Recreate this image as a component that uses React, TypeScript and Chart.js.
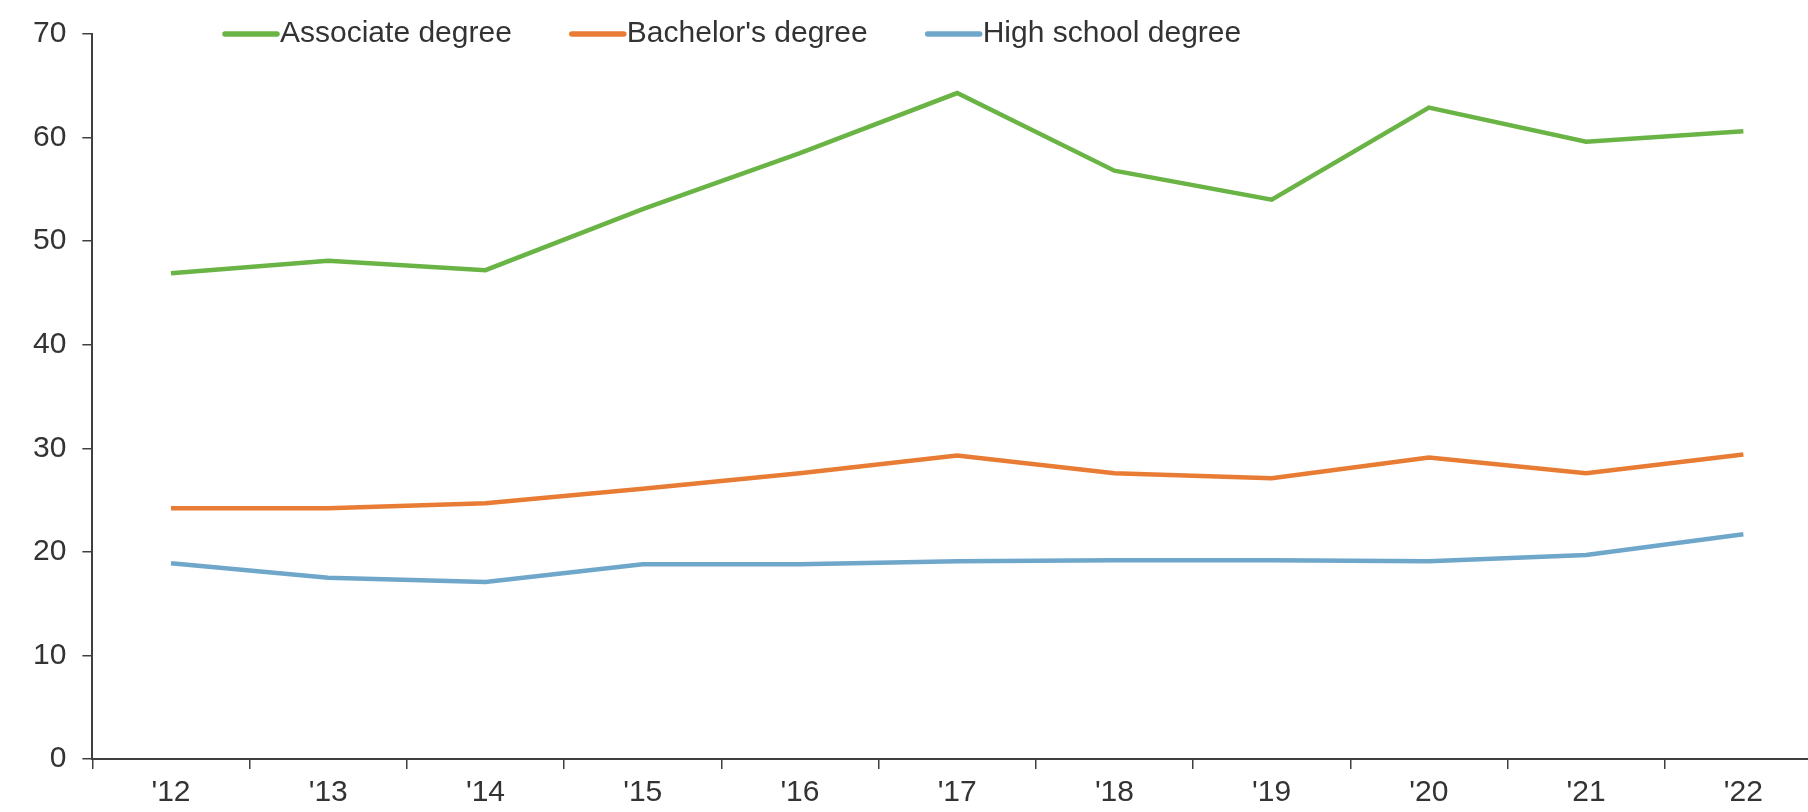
import React, { useEffect, useRef } from "react";
import { Chart, registerables } from "chart.js";

Chart.register(...registerables);

const categories = ["'12", "'13", "'14", "'15", "'16", "'17", "'18", "'19", "'20", "'21", "'22"];
const associate = [46.9, 48.1, 47.2, 53.1, 58.5, 64.3, 56.8, 54.0, 62.9, 59.6, 60.6];
const bachelors = [24.2, 24.2, 24.7, 26.1, 27.6, 29.3, 27.6, 27.1, 29.1, 27.6, 29.4];
const highSchool = [18.9, 17.5, 17.1, 18.8, 18.8, 19.1, 19.2, 19.2, 19.1, 19.7, 21.7];
const seriesNames = ["Associate degree", "Bachelor's degree", "High school degree"];
const seriesColors = ["#6ab446", "#e87c34", "#6fa7cb"];

const FONT = "'Liberation Sans', Arial, sans-serif";
const TEXT_COLOR = "#333333";
const AXIS_COLOR = "#404040";

const legendPlugin = {
  id: "topLegend",
  afterDraw(chart: any) {
    const ctx = chart.ctx;
    ctx.save();
    ctx.font = `30px ${FONT}`;
    ctx.textBaseline = "middle";
    ctx.textAlign = "left";
    let x = 225;
    const y = 34;
    chart.data.datasets.forEach((ds: any) => {
      ctx.strokeStyle = ds.borderColor;
      ctx.lineWidth = 5.5;
      ctx.lineCap = "round";
      ctx.beginPath();
      ctx.moveTo(x, y);
      ctx.lineTo(x + 52, y);
      ctx.stroke();
      ctx.fillStyle = TEXT_COLOR;
      ctx.fillText(ds.label, x + 55, y);
      const w = ctx.measureText(ds.label).width;
      x += 55 + w + 60;
    });
    ctx.restore();
  },
};

export default function App() {
  const ref = useRef<HTMLCanvasElement | null>(null);

  useEffect(() => {
    if (!ref.current) return;
    const values = [associate, bachelors, highSchool];
    const chart = new Chart(ref.current, {
      type: "line",
      data: {
        labels: categories,
        datasets: values.map((v, i) => ({
          label: seriesNames[i],
          data: v,
          borderColor: seriesColors[i],
          backgroundColor: seriesColors[i],
          borderWidth: 4.5,
          pointRadius: 0,
          tension: 0,
          fill: false,
        })),
      },
      options: {
        responsive: false,
        animation: false,
        layout: { padding: { left: 17, top: 23, right: 8, bottom: 0 } },
        plugins: {
          legend: { display: false },
          tooltip: { enabled: false },
        },
        scales: {
          x: {
            type: "category",
            offset: true,
            grid: {
              offset: true,
              drawOnChartArea: false,
              drawTicks: true,
              tickLength: 10,
              color: AXIS_COLOR,
              lineWidth: 1.5,
            },
            border: { display: true, color: AXIS_COLOR, width: 2 },
            ticks: {
              color: TEXT_COLOR,
              font: { family: FONT, size: 30 },
              padding: 6,
              maxRotation: 0,
              autoSkip: false,
            },
          },
          y: {
            min: 0,
            max: 70,
            grid: {
              drawOnChartArea: false,
              drawTicks: true,
              tickLength: 10,
              color: AXIS_COLOR,
              lineWidth: 1.5,
            },
            border: { display: true, color: AXIS_COLOR, width: 2 },
            ticks: {
              stepSize: 10,
              color: TEXT_COLOR,
              font: { family: FONT, size: 30 },
              padding: 16,
            },
          },
        },
      },
      plugins: [legendPlugin],
    });
    return () => chart.destroy();
  }, []);

  return (
    <div
      style={{
        position: "fixed",
        left: 0,
        top: 0,
        width: 1808,
        height: 812,
        overflow: "hidden",
        background: "#ffffff",
      }}
    >
      <canvas ref={ref} width={1830} height={817} style={{ display: "block", width: 1830, height: 817 }} />
    </div>
  );
}
